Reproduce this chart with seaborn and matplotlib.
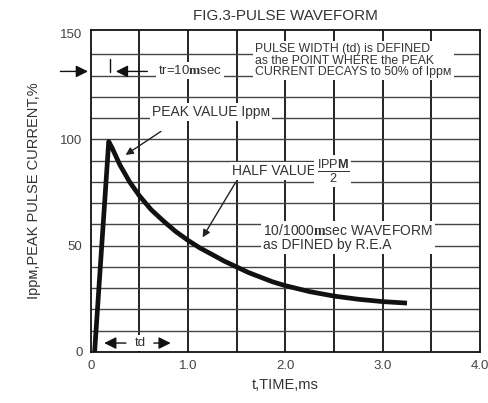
# Pulse waveform chart (10/1000 usec waveform)
import matplotlib
matplotlib.use("Agg")
import matplotlib.pyplot as plt
import seaborn as sns
import pandas as pd
from matplotlib.ticker import FixedLocator

# curve
time_ms = [0.04, 0.185, 0.22, 0.3, 0.4, 0.5, 0.62, 0.75, 0.87, 1.0, 1.12, 1.25, 1.37, 1.5,
           1.62, 1.75, 1.87, 2.0, 2.25, 2.5, 2.75, 3.0, 3.25]
current_pct = [0, 99, 96, 88, 80, 73.5, 67, 61.5, 56.8, 52.5, 49, 45.8, 42.8, 40,
               37.4, 35.1, 33, 31.2, 28.4, 26.3, 24.8, 23.7, 23.0]

x_ticks = [0, 1, 2, 3, 4]
x_tick_labels = ["0", "1.0", "2.0", "3.0", "4.0"]
y_ticks = [0, 50, 100, 150]
y_tick_labels = ["0", "50", "100", "150"]

df = pd.DataFrame({"t": time_ms, "ipp": current_pct})

sns.set_style("white")
plt.rcParams['font.family'] = ['Liberation Sans', 'DejaVu Sans']
plt.rcParams['mathtext.fontset'] = 'custom'
plt.rcParams['mathtext.rm'] = 'Liberation Sans'
plt.rcParams['mathtext.bf'] = 'Liberation Serif:bold'
plt.rcParams['mathtext.sf'] = 'Liberation Sans:bold'

txt = '#333333'
fig = plt.figure(figsize=(4.88, 4.03), dpi=100)
ax = fig.add_axes([0.1859, 0.1266, 0.7977, 0.799])

sns.lineplot(data=df, x="t", y="ipp", ax=ax, color='#111111', lw=3.4,
             solid_capstyle='butt', solid_joinstyle='round', zorder=4)

ax.set_xlim(0, 4)
ax.set_ylim(0, 151.5)
ax.set_xticks(x_ticks)
ax.set_xticklabels(x_tick_labels)
ax.set_yticks(y_ticks)
ax.set_yticklabels(y_tick_labels)
ax.xaxis.remove_overlapping_locs = False
ax.yaxis.remove_overlapping_locs = False
ax.xaxis.set_minor_locator(FixedLocator([0.5, 1, 1.5, 2, 2.5, 3, 3.5]))
ax.yaxis.set_minor_locator(FixedLocator(list(range(10, 150, 10))))
ax.grid(False)
ax.grid(which='minor', axis='x', color='#111111', lw=1.3)
ax.grid(which='minor', axis='y', color='#444444', lw=1.0)
ax.tick_params(which='both', length=0, labelsize=9.5, labelcolor='#444444', pad=6)
for s in ax.spines.values():
    s.set_color('#111111')
    s.set_linewidth(1.3)

ax.set_title("FIG.3-PULSE WAVEFORM", fontsize=11, color=txt, pad=7)
ax.set_xlabel("t,TIME,ms", fontsize=10.5, color=txt, labelpad=4)
ax.set_ylabel("Ippᴍ,PEAK PULSE CURRENT,%", fontsize=10.5, color=txt, labelpad=14)

box = dict(facecolor='white', edgecolor='none', pad=1.5)
arrow = dict(arrowstyle='-|>', color='#222222', lw=1.0, mutation_scale=11)
big_arrow = dict(arrowstyle='-|>', color='#111111', lw=1.0, mutation_scale=18)

ax.text(1.69, 137, "PULSE WIDTH (td) is DEFINED\nas the POINT WHERE the PEAK\nCURRENT DECAYS to 50% of Ippᴍ",
        fontsize=8.8, color=txt, ha='left', va='center', linespacing=0.95, bbox=box, zorder=5)

ax.text(0.69, 132.5, r"tr=10$\mathbf{m}$sec", fontsize=9.5, color=txt,
        ha='left', va='center', bbox=box, zorder=5)
ax.annotate("", xy=(0, 132), xytext=(-0.34, 132), arrowprops=big_arrow, annotation_clip=False)
ax.annotate("", xy=(0.23, 132), xytext=(0.61, 132), arrowprops=big_arrow)
ax.plot([0.2, 0.2], [131.5, 138], color='#111111', lw=1.0)

ax.text(0.63, 113, "PEAK VALUE Ippᴍ", fontsize=10, color=txt,
        ha='left', va='center', bbox=box, zorder=5)
ax.annotate("", xy=(0.335, 92), xytext=(0.745, 104.5), arrowprops=arrow)

ax.text(1.45, 85, "HALF VALUE ", fontsize=10, color=txt,
        ha='left', va='center', bbox=box, zorder=5)
ax.text(2.32, 85, r"$\frac{\mathrm{IPP}\mathsf{M}}{2}$", fontsize=13, color=txt,
        ha='left', va='center', bbox=box, zorder=5)
ax.annotate("", xy=(1.135, 52.8), xytext=(1.505, 81), arrowprops=arrow)

ax.text(1.77, 53.8, "10/1000" + r"$\mathbf{m}$" + "sec WAVEFORM\nas DFINED by R.E.A",
        fontsize=10, color=txt, ha='left', va='center', linespacing=0.95, bbox=box, zorder=5)

ax.text(0.506, 4.2, "td", fontsize=9.5, color=txt, ha='center', va='center', bbox=box, zorder=5)
ax.annotate("", xy=(0.11, 4.2), xytext=(0.39, 4.2), arrowprops=big_arrow)
ax.annotate("", xy=(0.85, 4.2), xytext=(0.62, 4.2), arrowprops=big_arrow)

fig.savefig("out.png", dpi=100)
